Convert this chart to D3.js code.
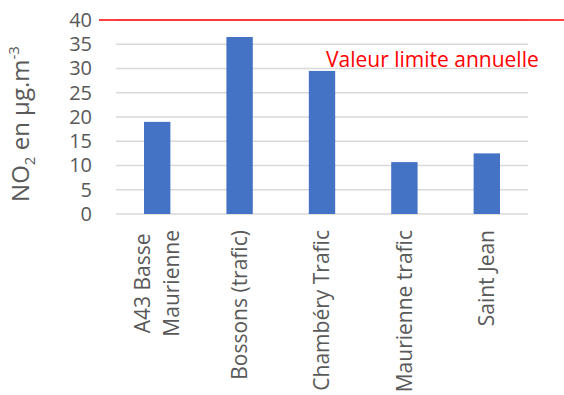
<!DOCTYPE html>
<html>
<head>
<meta charset="utf-8">
<script src="https://cdn.jsdelivr.net/npm/d3@7"></script>
<style>
  body { margin: 0; background: #fff; }
  svg { font-family: "Open Sans", sans-serif; }
</style>
</head>
<body>
<div class="chart"></div>
<script>
var categories = [["A43 Basse", "Maurienne"], ["Bossons (trafic)"], ["Chambéry Trafic"], ["Maurienne trafic"], ["Saint Jean"]];
var values = [19.0, 36.5, 29.5, 10.7, 12.5];
var yTicks = [0, 5, 10, 15, 20, 25, 30, 35, 40];
var limitValue = 40;
var limitLabel = "Valeur limite annuelle";

var chartWidth = 564, chartHeight = 395;
var plotLeft = 116, plotRight = 528, plotTop = 20, plotBottom = 214;

var svg = d3.select(".chart").append("svg")
  .attr("width", chartWidth)
  .attr("height", chartHeight);

var x = d3.scaleBand()
  .domain(d3.range(categories.length))
  .range([plotLeft, plotRight])
  .paddingInner(0.68)
  .paddingOuter(0.34);

var y = d3.scaleLinear().domain([0, 40]).range([plotBottom, plotTop]);

// gridlines
svg.append("g")
  .selectAll("line")
  .data(yTicks)
  .enter()
  .append("line")
  .attr("x1", plotLeft)
  .attr("x2", plotRight)
  .attr("y1", function(d) { return y(d); })
  .attr("y2", function(d) { return y(d); })
  .attr("stroke", "#d9d9d9")
  .attr("stroke-width", 1.3);

// y axis labels
var yAxis = svg.append("g")
  .attr("transform", "translate(" + (plotLeft - 24) + ",0)")
  .call(d3.axisLeft(y).tickValues(yTicks).tickSize(0).tickPadding(0));
yAxis.select(".domain").remove();
yAxis.selectAll("text")
  .attr("fill", "#595959")
  .style("font-size", "20px")
  .style("font-family", "Open Sans, sans-serif");

// bars
svg.selectAll("rect.bar")
  .data(values)
  .enter()
  .append("rect")
  .attr("class", "bar")
  .attr("x", function(d, i) { return x(i); })
  .attr("y", function(d) { return y(d); })
  .attr("width", x.bandwidth())
  .attr("height", function(d) { return y(0) - y(d); })
  .attr("fill", "#4472c4");

// limit line
svg.append("line")
  .attr("x1", 99)
  .attr("x2", chartWidth)
  .attr("y1", y(limitValue))
  .attr("y2", y(limitValue))
  .attr("stroke", "#ff0000")
  .attr("stroke-width", 1.3);

svg.append("text")
  .attr("x", 326)
  .attr("y", 67)
  .attr("fill", "#ff0000")
  .style("font-size", "21px")
  .text(limitLabel);

// x labels, rotated
categories.forEach(function(lines, i) {
  var cx = x(i) + x.bandwidth() / 2;
  var g = svg.append("g")
    .attr("transform", "translate(" + cx + ",230) rotate(-90)");
  var t = g.selectAll("text")
    .data(lines)
    .enter()
    .append("text")
    .attr("fill", "#595959")
    .style("font-size", "21px")
    .attr("dy", "0.35em")
    .attr("y", function(d, j) { return (j - (lines.length - 1) / 2) * 29; })
    .text(function(d) { return d; });
  var maxLen = d3.max(t.nodes(), function(n) { return n.getComputedTextLength(); });
  t.attr("text-anchor", "middle").attr("x", -maxLen / 2);
});

// y title
var title = svg.append("text")
  .attr("transform", "translate(29,124) rotate(-90)")
  .attr("text-anchor", "middle")
  .attr("fill", "#595959")
  .style("font-size", "24px");
title.append("tspan").text("NO");
title.append("tspan").attr("dy", 6).style("font-size", "15px").text("2");
title.append("tspan").attr("dy", -6).text(" en µg.m");
title.append("tspan").attr("dy", -10).style("font-size", "15px").text("-3");
</script>
</body>
</html>
